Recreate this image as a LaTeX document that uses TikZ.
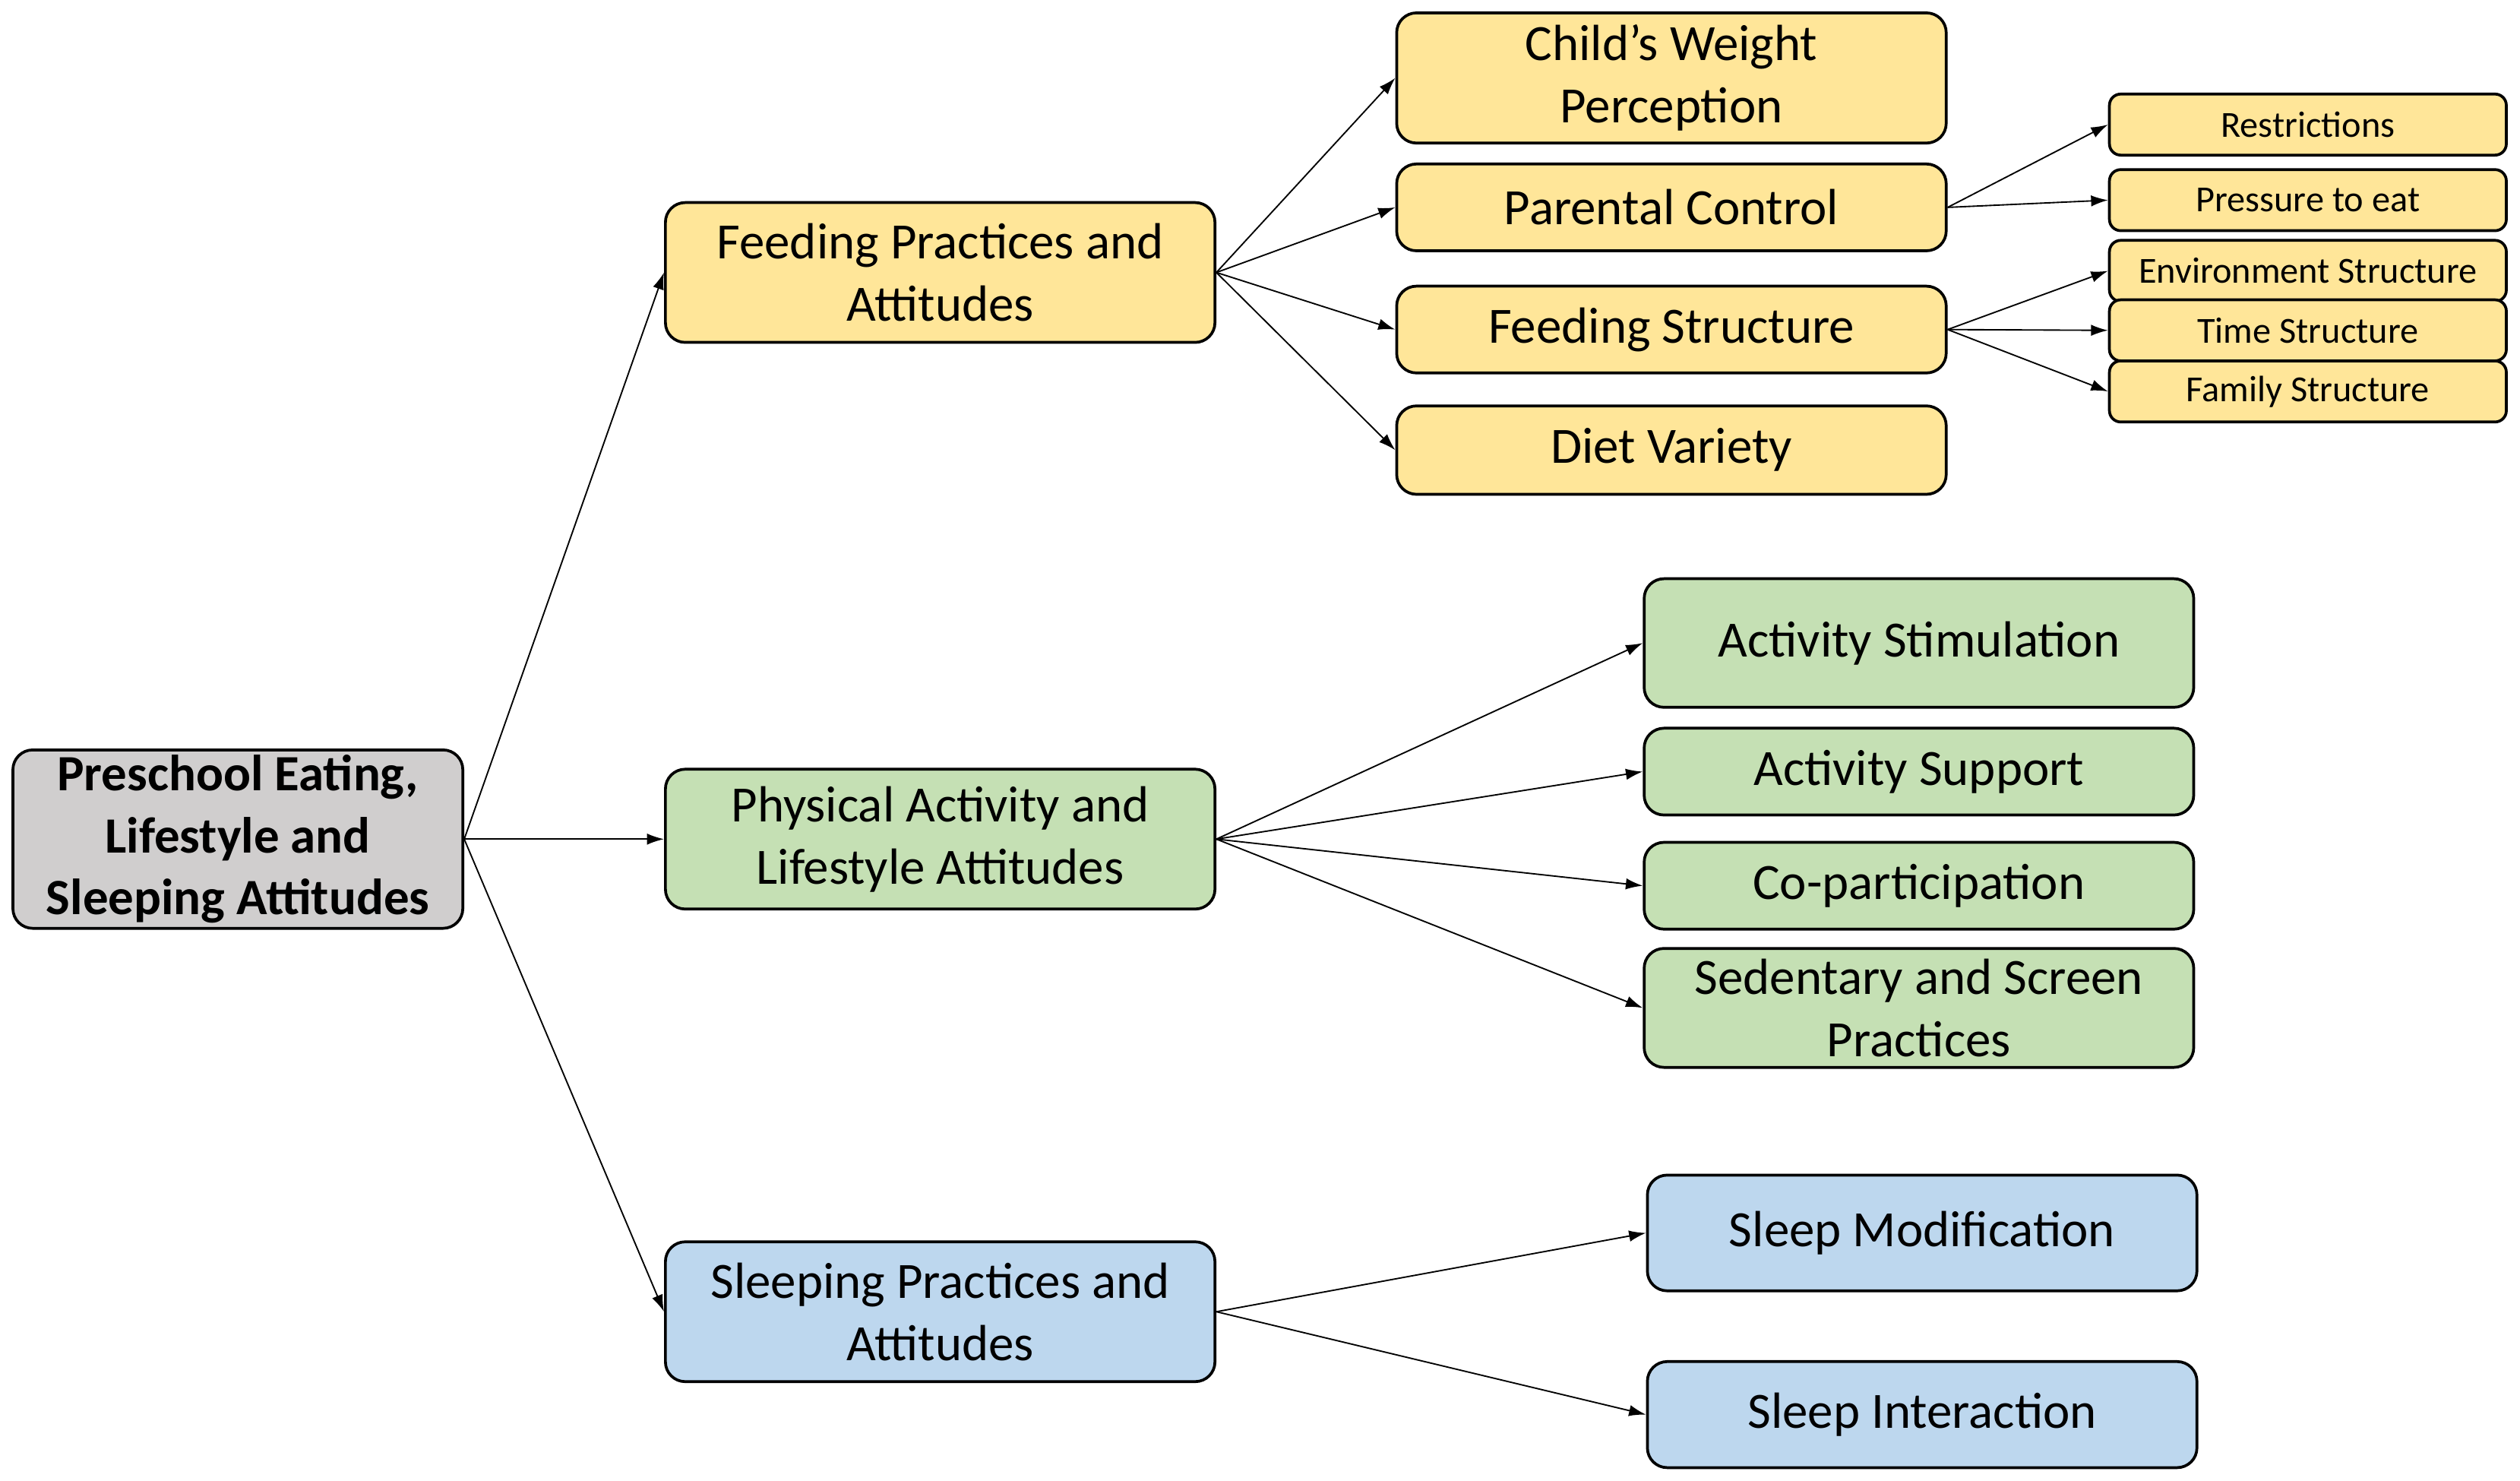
\documentclass[tikz,border=0pt]{standalone}
\usepackage{fontspec}
\setmainfont{Carlito}
\usetikzlibrary{arrows.meta}
\definecolor{feedcol}{HTML}{FFE699}
\definecolor{actcol}{HTML}{C5E0B4}
\definecolor{sleepcol}{HTML}{BDD7EE}
\definecolor{rootcol}{HTML}{D0CECE}
\begin{document}
\begin{tikzpicture}[x=0.02cm,y=-0.02cm]

\tikzset{box/.style={draw,line width=1pt,rounded corners=7pt,align=center,inner sep=0pt,font=\fontsize{18}{22}\selectfont},}
\tikzset{mid/.style={box,minimum width=6.84cm,minimum height=1.74cm},}
\tikzset{leaf/.style={box,minimum width=6.84cm},}
\tikzset{small/.style={box,rounded corners=4pt,minimum width=4.94cm,minimum height=0.76cm,font=\fontsize{13}{15}\selectfont},}
\tikzset{link/.style={-{Latex[length=6pt,width=4pt]},line width=0.5pt},}

\useasboundingbox (0,0) rectangle (1568,921);

%ROOT
\node [box,fill=rootcol,minimum width=5.6cm,minimum height=2.22cm,font=\bfseries\fontsize{18}{22}\selectfont] (root) at (148,522) {Preschool Eating,\\Lifestyle and\\Sleeping Attitudes};

%FEEDING
\node [mid,fill=feedcol] (feed) at (585,169.5) {Feeding Practices and\\Attitudes};
\node [leaf,fill=feedcol,minimum height=1.62cm] (weight) at (1040,48.5) {Child's Weight\\Perception};
\node [leaf,fill=feedcol,minimum height=1.08cm] (control) at (1040,129) {Parental Control};
\node [leaf,fill=feedcol,minimum height=1.08cm] (structure) at (1040,205) {Feeding Structure};
\node [leaf,fill=feedcol,minimum height=1.1cm] (variety) at (1040,280) {Diet Variety};
\node [small,fill=feedcol] (restrict) at (1436,77.5) {Restrictions};
\node [small,fill=feedcol] (pressure) at (1436,124.5) {Pressure to eat};
\node [small,fill=feedcol] (envstr) at (1436,168.5) {Environment Structure};
\node [small,fill=feedcol] (timestr) at (1436,205.5) {Time Structure};
\node [small,fill=feedcol] (famstr) at (1436,243.5) {Family Structure};

%ACTIVITY
\node [mid,fill=actcol] (phys) at (585,522) {Physical Activity and\\Lifestyle Attitudes};
\node [leaf,fill=actcol,minimum height=1.6cm] (stim) at (1194,400) {Activity Stimulation};
\node [leaf,fill=actcol,minimum height=1.08cm] (support) at (1194,480) {Activity Support};
\node [leaf,fill=actcol,minimum height=1.08cm] (copart) at (1194,551) {Co-participation};
\node [leaf,fill=actcol,minimum height=1.48cm] (screen) at (1194,627) {Sedentary and Screen\\Practices};

%SLEEP
\node [mid,fill=sleepcol] (sleep) at (585,816) {Sleeping Practices and\\Attitudes};
\node [leaf,fill=sleepcol,minimum height=1.44cm] (modif) at (1196,767) {Sleep Modification};
\node [leaf,fill=sleepcol,minimum height=1.32cm] (interact) at (1196,880) {Sleep Interaction};

\draw[link] (root.east) -- (feed.west);
\draw[link] (root.east) -- (phys.west);
\draw[link] (root.east) -- (sleep.west);

\foreach \t in {weight,control,structure,variety}
  \draw[link] (feed.east) -- (\t.west);
\foreach \t in {restrict,pressure}
  \draw[link] (control.east) -- (\t.west);
\foreach \t in {envstr,timestr,famstr}
  \draw[link] (structure.east) -- (\t.west);
\foreach \t in {stim,support,copart,screen}
  \draw[link] (phys.east) -- (\t.west);
\foreach \t in {modif,interact}
  \draw[link] (sleep.east) -- (\t.west);

\end{tikzpicture}
\end{document}
